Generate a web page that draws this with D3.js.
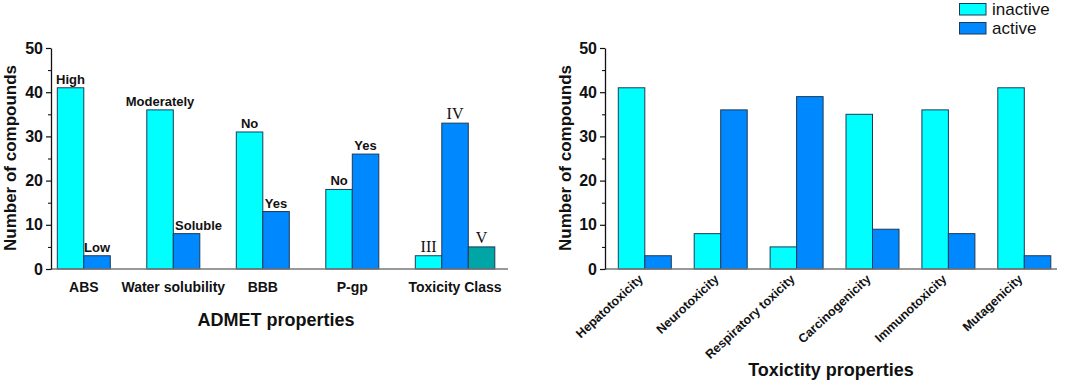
<!DOCTYPE html>
<html>
<head>
<meta charset="utf-8">
<script src="https://cdn.jsdelivr.net/npm/d3@7"></script>
<style>
  body { margin: 0; background: #fff; }
  svg { display: block; }
  text { font-family: "Liberation Sans", Arial, sans-serif; }
  .bold { font-weight: bold; }
  .serif { font-family: "Liberation Serif", "Times New Roman", serif; font-weight: normal; }
</style>
</head>
<body>
<svg id="chart" width="1065" height="383"></svg>
<script>
// ---- data ----
var admetCategories = ["ABS", "Water solubility", "BBB", "P-gp", "Toxicity Class"];
var admetFirst  = [41, 36, 31, 18, 3];
var admetSecond = [3, 8, 13, 26, 33];
var admetThird  = [null, null, null, null, 5];
var admetFirstLabels  = ["High", "Moderately", "No", "No", "III"];
var admetSecondLabels = ["Low", "Soluble", "Yes", "Yes", "IV"];
var admetThirdLabels  = [null, null, null, null, "V"];

var toxCategories = ["Hepatotoxicity", "Neurotoxicity", "Respiratory toxicity",
                     "Carcinogenicity", "Immunotoxicity", "Mutagenicity"];
var toxInactive = [41, 8, 5, 35, 36, 41];
var toxActive   = [3, 36, 39, 9, 8, 3];

var legendLabels = ["inactive", "active"];
var yTicks = [0, 10, 20, 30, 40, 50];
var yMinorTicks = [5, 15, 25, 35, 45];

// ---- look ----
var colors = ["#00ffff", "#0088ff", "#00a5a5"]
  , barStroke = "#1d3a58"
  , barWidth = 26.5
  , axisY0 = 269
  , axisY50 = 48;

var svg = d3.select("#chart");

var y = d3.scaleLinear()
  .domain([0, 50])
  .range([axisY0, axisY50]);

// inner scale: position of a series inside its group
var x1 = d3.scaleBand()
  .domain([0, 1, 2])
  .range([0, barWidth * 3])
  .padding(0);

function drawYAxis(g, xPos, titleX) {
  g.append("g")
    .attr("transform", "translate(" + xPos + ",0)")
    .call(d3.axisLeft(y).tickValues(yMinorTicks).tickSize(3).tickFormat(""))
    .call(a => a.select(".domain").remove());

  var ax = g.append("g")
    .attr("transform", "translate(" + xPos + ",0)")
    .call(d3.axisLeft(y).tickValues(yTicks).tickSize(5).tickPadding(3).tickSizeOuter(0));
  ax.select(".domain").attr("stroke", "#111").attr("stroke-width", 1.3);
  ax.selectAll(".tick line").attr("stroke", "#111").attr("stroke-width", 1.2);
  ax.selectAll(".tick text")
    .attr("class", "bold")
    .style("font-size", "16px")
    .attr("fill", "#111");

  g.append("text")
    .attr("class", "bold")
    .attr("transform", "translate(" + titleX + "," + 158 + ") rotate(-90)")
    .attr("text-anchor", "middle")
    .style("font-size", "17px")
    .attr("fill", "#111")
    .text("Number of compounds");
}

function drawBars(g, x0, rows) {
  // rows: [{cat, s, v, label}]
  g.selectAll("rect.bar")
    .data(rows.filter(d => d.v != null))
   .enter().append("rect")
    .attr("class", "bar")
    .attr("x", d => x0(d.cat) + x1(d.s))
    .attr("y", d => y(d.v))
    .attr("width", x1.bandwidth())
    .attr("height", d => y(0) - y(d.v))
    .attr("fill", d => colors[d.s])
    .attr("stroke", barStroke)
    .attr("stroke-width", 1);
}

// ================= left chart: ADMET =================
var left = svg.append("g");

var xAdmet = d3.scaleBand()
  .domain(admetCategories)
  .range([57.3, 57.3 + 89.5 * (5 - 0.408)])
  .paddingInner(0.408)
  .paddingOuter(0)
  .align(0);

var admetRows = [];
admetCategories.forEach(function(c, i) {
  admetRows.push({cat: c, s: 0, v: admetFirst[i], label: admetFirstLabels[i]});
  admetRows.push({cat: c, s: 1, v: admetSecond[i], label: admetSecondLabels[i]});
  admetRows.push({cat: c, s: 2, v: admetThird[i], label: admetThirdLabels[i]});
});

drawBars(left, xAdmet, admetRows);

// value labels above bars
var labelShift = {"Soluble": 12};
left.selectAll("text.barlabel")
  .data(admetRows.filter(d => d.v != null))
 .enter().append("text")
  .attr("class", d => /^[IVX]+$/.test(d.label) ? "serif" : "bold")
  .attr("x", d => xAdmet(d.cat) + x1(d.s) + x1.bandwidth() / 2 + (labelShift[d.label] || 0))
  .attr("y", d => y(d.v) - 4)
  .attr("text-anchor", "middle")
  .style("font-size", d => /^[IVX]+$/.test(d.label) ? "16px" : "13px")
  .attr("fill", "#111")
  .text(d => d.label);

// x axis
left.append("line")
  .attr("x1", 51).attr("x2", 508)
  .attr("y1", y(0)).attr("y2", y(0))
  .attr("stroke", "#777").attr("stroke-width", 1.3);

left.selectAll("text.cat")
  .data(admetCategories)
 .enter().append("text")
  .attr("class", "bold")
  .attr("x", function(d, i) {
    var n = admetThird[i] != null ? 3 : 2;
    return xAdmet(d) + barWidth * n / 2;
  })
  .attr("y", 292)
  .attr("text-anchor", "middle")
  .style("font-size", "14px")
  .attr("fill", "#111")
  .text(d => d);

left.append("text")
  .attr("class", "bold")
  .attr("x", 276).attr("y", 326)
  .attr("text-anchor", "middle")
  .style("font-size", "18px")
  .attr("fill", "#111")
  .text("ADMET properties");

drawYAxis(left, 51, 16);

// ================= right chart: toxicity =================
var right = svg.append("g");

var xTox = d3.scaleBand()
  .domain(toxCategories)
  .range([618.3, 618.3 + 75.9 * (6 - 0.302)])
  .paddingInner(0.302)
  .paddingOuter(0)
  .align(0);

var toxRows = [];
toxCategories.forEach(function(c, i) {
  toxRows.push({cat: c, s: 0, v: toxInactive[i]});
  toxRows.push({cat: c, s: 1, v: toxActive[i]});
});

drawBars(right, xTox, toxRows);

right.append("line")
  .attr("x1", 605).attr("x2", 1057)
  .attr("y1", y(0)).attr("y2", y(0))
  .attr("stroke", "#777").attr("stroke-width", 1.3);

right.selectAll("text.cat")
  .data(toxCategories)
 .enter().append("text")
  .attr("class", "bold")
  .attr("text-anchor", "end")
  .attr("transform", d => "translate(" + (xTox(d) + barWidth - 1) + "," + (y(0) + 11) + ") rotate(-43)")
  .style("font-size", "12.5px")
  .attr("fill", "#111")
  .text(d => d);

right.append("text")
  .attr("class", "bold")
  .attr("x", 831).attr("y", 376)
  .attr("text-anchor", "middle")
  .style("font-size", "18px")
  .attr("fill", "#111")
  .text("Toxictity properties");

drawYAxis(right, 605, 571);

// legend
var legend = svg.append("g")
  .attr("transform", "translate(959.5,3.5)");

var lg = legend.selectAll("g")
  .data(legendLabels)
 .enter().append("g")
  .attr("transform", (d, i) => "translate(0," + (i * 19) + ")");

lg.append("rect")
  .attr("width", 26.5)
  .attr("height", 11.5)
  .attr("fill", (d, i) => colors[i])
  .attr("stroke", barStroke)
  .attr("stroke-width", 1);

lg.append("text")
  .attr("x", 32.5)
  .attr("y", 11.5)
  .style("font-size", "17px")
  .attr("fill", "#111")
  .text(d => d);
</script>
</body>
</html>
